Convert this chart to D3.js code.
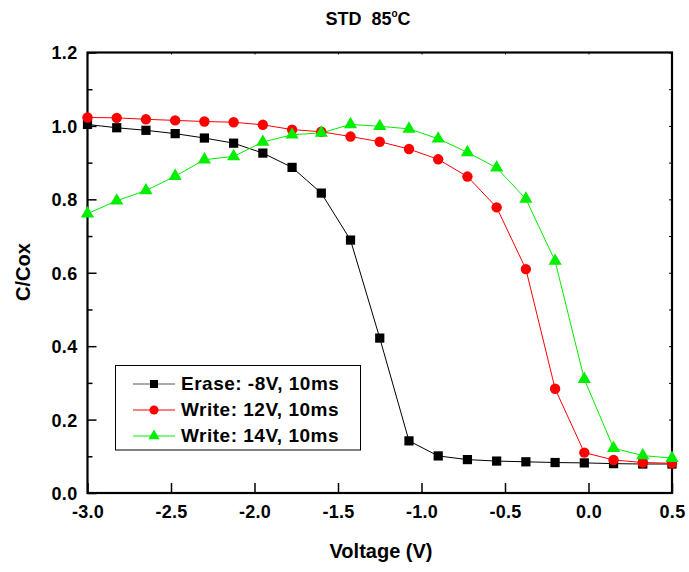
<!DOCTYPE html>
<html><head><meta charset="utf-8">
<script src="https://cdn.jsdelivr.net/npm/d3@7"></script>
<style>body{margin:0;background:#fff;} svg{display:block;} text{font-family:Arial,"Liberation Sans",sans-serif;font-weight:bold;}</style>
</head><body>
<svg id="c" width="689" height="572"></svg>
<script>
const voltage = [-3.0,-2.825,-2.65,-2.475,-2.3,-2.125,-1.95,-1.775,-1.6,-1.425,-1.25,-1.075,-0.9,-0.725,-0.55,-0.375,-0.2,-0.025,0.15,0.325,0.5];
const erase8V = [1.004,0.995,0.988,0.979,0.967,0.953,0.926,0.887,0.817,0.689,0.422,0.142,0.101,0.091,0.087,0.085,0.083,0.082,0.080,0.079,0.079];
const write12V = [1.023,1.022,1.018,1.015,1.012,1.010,1.003,0.990,0.984,0.971,0.957,0.937,0.909,0.862,0.778,0.610,0.284,0.110,0.090,0.083,0.081];
const write14V = [0.761,0.796,0.824,0.863,0.908,0.917,0.956,0.976,0.981,1.004,0.999,0.992,0.965,0.928,0.886,0.801,0.632,0.310,0.122,0.102,0.095];
const seriesNames = ["Erase: -8V, 10ms","Write: 12V, 10ms","Write: 14V, 10ms"];
const xTicks = [-3.0,-2.5,-2.0,-1.5,-1.0,-0.5,0.0,0.5];
const yTicks = [0.0,0.2,0.4,0.6,0.8,1.0,1.2];
const yMinor = [0.1,0.3,0.5,0.7,0.9,1.1];

const svg = d3.select("#c");
const L=87.5,R=672,T=52.5,B=493;
const x = d3.scaleLinear().domain([-3.0,0.5]).range([L,R]);
const y = d3.scaleLinear().domain([0,1.2]).range([B,T]);

// title
const title = svg.append("text").attr("x",368).attr("y",25).attr("text-anchor","middle").attr("font-size",18);
title.append("tspan").text("STD\u00a0\u00a085");
title.append("tspan").attr("font-size",10).attr("dy",-8).text("o");
title.append("tspan").attr("dy",8).text("C");

// axes
const fmt = v => d3.format(".1f")(v).replace("\u2212","-");
function styleTicks(g){
  g.select(".domain").remove();
  g.selectAll("line").attr("stroke-width",1.5);
  g.selectAll("text").attr("font-size",18).attr("font-weight","bold").attr("letter-spacing",0.3);
}
svg.append("g").attr("transform",`translate(0,${B})`)
  .call(d3.axisBottom(x).tickValues(xTicks).tickFormat(fmt).tickSizeInner(-10).tickSizeOuter(0).tickPadding(12))
  .call(styleTicks);
svg.append("g").attr("transform",`translate(${L},0)`)
  .call(d3.axisLeft(y).tickValues(yTicks).tickFormat(fmt).tickSizeInner(-9).tickSizeOuter(0).tickPadding(10))
  .call(styleTicks)
  .call(g=>g.selectAll("text").attr("dy","0.36em"));
svg.append("g").attr("transform",`translate(${L},0)`)
  .call(d3.axisLeft(y).tickValues(yMinor).tickFormat("").tickSizeInner(-5).tickSizeOuter(0))
  .call(g=>{g.select(".domain").remove();g.selectAll("line").attr("stroke-width",1.5);});
svg.append("g").attr("transform",`translate(${R},0)`)
  .call(d3.axisRight(y).tickValues(yTicks.concat(yMinor)).tickFormat("").tickSizeInner(-3).tickSizeOuter(0))
  .call(g=>{g.select(".domain").remove();g.selectAll("line").attr("stroke-width",1);});
svg.append("g").attr("transform",`translate(0,${T})`)
  .call(d3.axisTop(x).tickValues(xTicks).tickFormat("").tickSizeInner(-2).tickSizeOuter(0))
  .call(g=>{g.select(".domain").remove();g.selectAll("line").attr("stroke-width",1);});
svg.append("rect").attr("x",L).attr("y",T).attr("width",R-L).attr("height",B-T)
  .attr("fill","none").attr("stroke","#000").attr("stroke-width",2.2);

// axis titles
svg.append("text").attr("x",381).attr("y",558).attr("text-anchor","middle").attr("font-size",20).text("Voltage (V)");
svg.append("text").attr("transform","translate(30,272) rotate(-90)").attr("text-anchor","middle").attr("font-size",20).text("C/Cox");

const series = [
  {name:seriesNames[0], vals:erase8V, color:"#000000", sym:d3.symbolSquare, size:85},
  {name:seriesNames[1], vals:write12V, color:"#ff0000", sym:d3.symbolCircle, size:85},
  {name:seriesNames[2], vals:write14V, color:"#00ee00", sym:d3.symbolTriangle, size:75}
];
const line = d3.line().x((d,i)=>x(voltage[i])).y(d=>y(d));
const plot = svg.append("g");
series.forEach(s=>{
  plot.append("path").datum(s.vals).attr("d",line).attr("fill","none").attr("stroke",s.color).attr("stroke-width",1);
});
series.forEach(s=>{
  plot.selectAll(null).data(s.vals).enter().append("path")
    .attr("transform",(d,i)=>`translate(${x(voltage[i])},${y(d)})`)
    .attr("d",d3.symbol().type(s.sym).size(s.size)).attr("fill",s.color);
});

// legend
const lg = svg.append("g");
lg.append("rect").attr("x",115.5).attr("y",365.5).attr("width",245).attr("height",84.5).attr("fill","#fff").attr("stroke","#000").attr("stroke-width",1);
const rowsY=[384,410,436];
const lineColors=["#555555","#ff0000","#00ee00"];
series.forEach((s,i)=>{
  const yy=rowsY[i];
  lg.append("line").attr("x1",133).attr("x2",175).attr("y1",yy).attr("y2",yy).attr("stroke",lineColors[i]).attr("stroke-width",1);
  lg.append("path").attr("transform",`translate(154,${yy})`).attr("d",d3.symbol().type(s.sym).size(s.size*0.75)).attr("fill",s.color);
  lg.append("text").attr("x",181).attr("y",yy+5.5).attr("font-size",19).attr("letter-spacing",0.5).text(s.name);
});
</script>
</body></html>
